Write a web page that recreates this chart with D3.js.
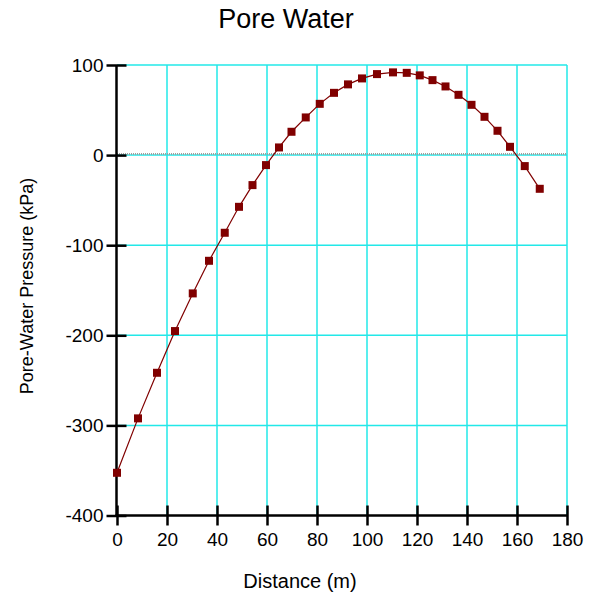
<!DOCTYPE html>
<html>
<head>
<meta charset="utf-8">
<script src="https://cdn.jsdelivr.net/npm/d3@7"></script>
<style>
  html, body { margin: 0; padding: 0; background: #fff; }
  svg { display: block; font-family: "Liberation Sans", Arial, sans-serif; }
</style>
</head>
<body>
<svg id="chart" width="597" height="594"></svg>
<script>
const title = "Pore Water";
const xLabel = "Distance (m)";
const yLabel = "Pore-Water Pressure (kPa)";
const xTicks = [0, 20, 40, 60, 80, 100, 120, 140, 160, 180];
const yTicks = [-400, -300, -200, -100, 0, 100];
const distance = [0, 8.4, 16, 23.2, 30.3, 36.8, 43.1, 48.8, 54.2, 59.6, 64.8, 69.8, 75.5, 81.1, 86.8, 92.4, 98, 104, 110.4, 115.9, 121.1, 126.2, 131.4, 136.6, 141.8, 147, 152.2, 157.2, 163.1, 169.1];
const pressure = [-352.6, -292.2, -241.6, -195.3, -153.5, -117.3, -86.2, -57.4, -33.3, -11.1, 8.5, 25.9, 41.8, 56.9, 69.1, 78.5, 85.1, 89.9, 91.8, 91.3, 88.5, 83.2, 76.2, 66.9, 55.8, 42.5, 27.0, 9.2, -12.2, -37.4];

const data = distance.map((d, i) => ({x: d, y: pressure[i]}));

const svg = d3.select("#chart");
const x = d3.scaleLinear().domain([0, 180]).range([117, 567]);
const y = d3.scaleLinear().domain([-400, 100]).range([515.5, 65]);

const grid = svg.append("g");
grid.selectAll("line.vx").data(xTicks.filter(t => t > 0)).join("line")
  .attr("x1", d => x(d)).attr("x2", d => x(d))
  .attr("y1", y(100)).attr("y2", y(-400))
  .attr("stroke", "#22e8e8").attr("stroke-width", 1.5);
grid.selectAll("line.hy").data(yTicks.filter(t => t > -400)).join("line")
  .attr("x1", x(0)).attr("x2", x(180))
  .attr("y1", d => y(d)).attr("y2", d => y(d))
  .attr("stroke", "#22e8e8").attr("stroke-width", 1.5);
// zero reference line (grey dotted)
svg.append("line")
  .attr("x1", x(0)).attr("x2", x(180))
  .attr("y1", y(0) - 1).attr("y2", y(0) - 1)
  .attr("stroke", "#a0a0a0").attr("stroke-width", 2)
  .attr("stroke-dasharray", "1,1");

// axes
const fmt = d => String(d);
const yAxis = svg.append("g").attr("transform", `translate(${x(0) - 0.5},0)`)
  .call(d3.axisLeft(y).tickValues(yTicks).tickSize(10).tickPadding(3).tickFormat(fmt));
yAxis.selectAll(".tick line").attr("x1", 10);
const xAxis = svg.append("g").attr("transform", `translate(0,${y(-400)})`)
  .call(d3.axisBottom(x).tickValues(xTicks).tickSize(10).tickPadding(7).tickFormat(fmt));
xAxis.selectAll(".tick line").attr("y1", -10);
[yAxis, xAxis].forEach(a => {
  a.select(".domain").attr("stroke", "#000").attr("stroke-width", 2.5);
  a.selectAll(".tick line").attr("stroke", "#000").attr("stroke-width", 2.5);
  a.selectAll(".tick text").attr("fill", "#000").style("font-size", "19px")
    .style("font-family", "'Liberation Sans', Arial, sans-serif");
});
yAxis.select(".domain").attr("d", `M0,${y(100)}V${y(-400)}`);
xAxis.select(".domain").attr("d", `M${x(0) - 1.5},0H${x(180)}`);

// line and markers
svg.append("path").datum(data)
  .attr("fill", "none").attr("stroke", "#800000").attr("stroke-width", 1.2)
  .attr("d", d3.line().x(d => x(d.x)).y(d => y(d.y)));
svg.selectAll("rect.pt").data(data).join("rect")
  .attr("x", d => x(d.x) - 4).attr("y", d => y(d.y) - 4)
  .attr("width", 8).attr("height", 8)
  .attr("fill", "#800000");

// texts
svg.append("text").attr("x", 286).attr("y", 28).attr("text-anchor", "middle")
  .style("font-size", "27px").attr("fill", "#000").text(title);
svg.append("text").attr("x", 300).attr("y", 588).attr("text-anchor", "middle")
  .style("font-size", "20px").attr("fill", "#000").text(xLabel);
svg.append("text").attr("transform", "translate(33,286) rotate(-90)").attr("text-anchor", "middle")
  .style("font-size", "18px").attr("fill", "#000").text(yLabel);
</script>
</body>
</html>
